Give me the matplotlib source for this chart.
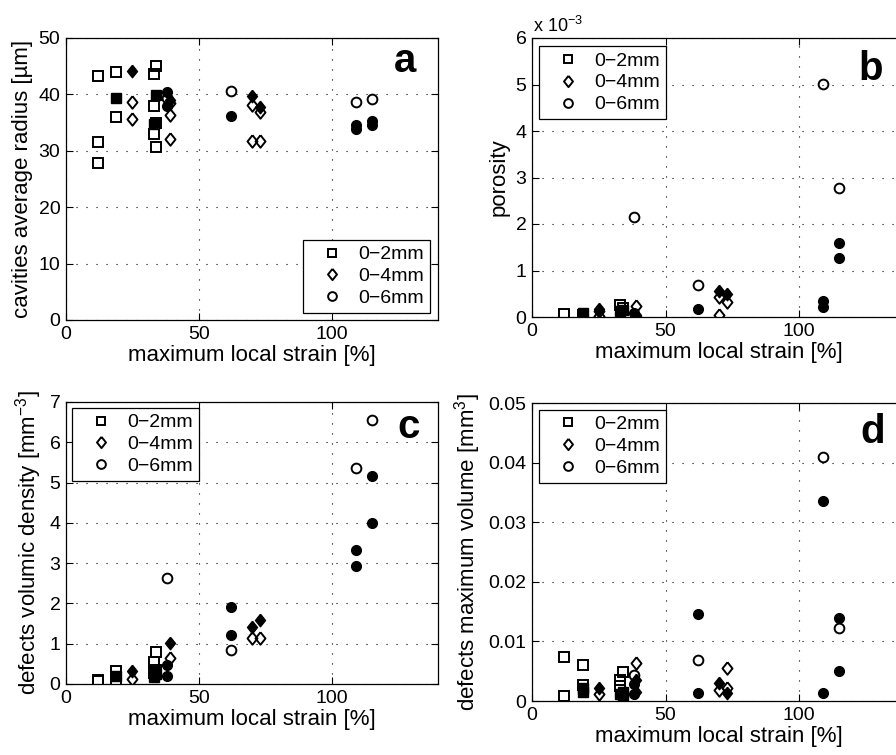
import matplotlib.pyplot as plt
from matplotlib.ticker import FuncFormatter

plt.rcParams["font.family"] = ["Liberation Sans", "DejaVu Sans"]
plt.rcParams["mathtext.fontset"] = "custom"
plt.rcParams["mathtext.rm"] = "Liberation Sans"
plt.rcParams["mathtext.it"] = "Liberation Sans:italic"
plt.rcParams["mathtext.bf"] = "Liberation Sans:bold"

LEGEND_LABELS = ["0−2mm", "0−4mm", "0−6mm"]
STRAIN_TICKS = [0, 50, 100]
XLABEL = "maximum local strain [%]"

# (strain %, value) pairs
# a: cavities average radius [um]
a_sq_open = [(12, 43.2), (12, 31.5), (12, 27.8), (19, 44.0), (19, 36.0), (33, 43.6),
             (33, 37.9), (33, 33.0), (34, 45.0), (34, 35.0), (34, 30.7)]
a_sq_fill = [(19, 39.4), (33, 34.7), (34, 39.9)]
a_di_open = [(25, 38.7), (25, 35.6), (39, 38.5), (39, 36.3), (39, 32.1),
             (70, 38.1), (70, 31.8), (73, 36.9), (73, 31.7)]
a_di_fill = [(25, 44.1), (39, 39.0), (70, 39.7), (73, 37.8)]
a_ci_open = [(38, 39.3), (62, 40.6), (109, 38.6), (115, 39.2)]
a_ci_fill = [(38, 40.5), (38, 38.0), (62, 36.2), (109, 34.6), (109, 33.9),
             (115, 35.2), (115, 34.6)]

# b: porosity (x 10^-3)
b_sq_open = [(12, 0.06), (19, 0.04), (33, 0.26), (34, 0.2)]
b_sq_fill = [(19, 0.09), (33, 0.12), (34, 0.15)]
b_di_open = [(25, 0.02), (25, 0.12), (39, 0.24), (70, 0.43), (70, 0.04), (73, 0.33)]
b_di_fill = [(25, 0.17), (39, 0.05), (39, 0.02), (70, 0.55), (73, 0.5)]
b_ci_open = [(38, 2.15), (62, 0.68), (109, 5.02), (115, 2.78)]
b_ci_fill = [(38, 0.08), (62, 0.17), (109, 0.35), (109, 0.22), (115, 1.6), (115, 1.27)]

# c: defects volumic density [mm^-3]
c_sq_open = [(12, 0.08), (12, 0.1), (19, 0.33), (19, 0.08), (33, 0.55), (33, 0.28),
             (34, 0.8), (34, 0.35)]
c_sq_fill = [(19, 0.2), (33, 0.18), (34, 0.25)]
c_di_open = [(25, 0.12), (39, 0.65), (70, 1.13), (73, 1.13)]
c_di_fill = [(25, 0.33), (39, 1.03), (70, 1.42), (73, 1.6)]
c_ci_open = [(38, 2.62), (62, 0.85), (109, 5.36), (115, 6.55)]
c_ci_fill = [(38, 0.47), (38, 0.2), (62, 1.9), (62, 1.22), (109, 3.33), (109, 2.92),
             (115, 5.16), (115, 4.0)]

# d: defects maximum volume [mm^3]
d_sq_open = [(12, 0.0074), (12, 0.0008), (19, 0.006), (19, 0.0027), (33, 0.0036),
             (33, 0.0026), (34, 0.0048)]
d_sq_fill = [(19, 0.0021), (19, 0.0015), (33, 0.0012), (34, 0.0015), (34, 0.0008)]
d_di_open = [(25, 0.0012), (39, 0.0064), (70, 0.0018), (73, 0.0056), (73, 0.0022)]
d_di_fill = [(25, 0.0021), (39, 0.0035), (39, 0.0015), (70, 0.0031), (73, 0.0014)]
d_ci_open = [(38, 0.0043), (62, 0.0069), (109, 0.041), (115, 0.0122)]
d_ci_fill = [(38, 0.0028), (38, 0.0012), (62, 0.0146), (62, 0.0013), (109, 0.0336),
             (109, 0.0013), (115, 0.014), (115, 0.005)]

DIAMOND = [(0, 1), (0.8, 0), (0, -1), (-0.8, 0), (0, 1)]
MARKERS = [("s", 6.5), (DIAMOND, 9), ("o", 7)]


def split(points):
    return [p[0] for p in points], [p[1] for p in points]


def draw_panel(ax, groups, ylim, yticks, ylabel, letter, letter_xy, leg_loc, leg_anchor):
    for (open_pts, fill_pts), (marker, size), label in zip(groups, MARKERS, LEGEND_LABELS):
        x, y = split(open_pts)
        ax.plot(x, y, ls="none", marker=marker, ms=size, mfc="none", mec="k",
                mew=1.4, label=label)
        x, y = split(fill_pts)
        ax.plot(x, y, ls="none", marker=marker, ms=size, mfc="k", mec="k", mew=1.0)

    ax.set_xlim(0, 140)
    ax.set_ylim(*ylim)
    ax.set_xticks(STRAIN_TICKS)
    ax.set_yticks(yticks)
    ax.yaxis.set_major_formatter(FuncFormatter(lambda v, p: f"{v:g}"))
    ax.grid(True, color="k", linestyle=(0, (1, 8)), linewidth=0.8)
    ax.tick_params(direction="in", top=True, right=True, length=5, width=0.8,
                   labelsize=14, pad=4)
    for s in ax.spines.values():
        s.set_linewidth(0.9)
    ax.set_xlabel(XLABEL, fontsize=16, labelpad=2)
    ax.set_ylabel(ylabel, fontsize=16, labelpad=4)
    ax.text(letter_xy[0], letter_xy[1], letter, transform=ax.transAxes, fontsize=29,
            fontweight="bold", ha="center", va="baseline")
    leg = ax.legend(loc=leg_loc, bbox_to_anchor=leg_anchor, fontsize=14, numpoints=1,
                    handlelength=2.4, handletextpad=0.15, borderpad=0.3,
                    labelspacing=0.22, markerscale=0.9, fancybox=False,
                    framealpha=1, borderaxespad=0)
    leg.get_frame().set_edgecolor("k")
    leg.get_frame().set_linewidth(0.9)


fig = plt.figure(figsize=(8.96, 7.55), dpi=100)
W, H = 896, 755


def axes_px(left, top, right, bottom):
    return fig.add_axes([left / W, 1 - bottom / H, (right - left) / W, (bottom - top) / H])


ax_a = axes_px(66, 38, 438, 320)
ax_b = axes_px(532, 38, 906, 317)
ax_c = axes_px(66, 402, 438, 684)
ax_d = axes_px(532, 403, 906, 701)

draw_panel(ax_a, [(a_sq_open, a_sq_fill), (a_di_open, a_di_fill), (a_ci_open, a_ci_fill)],
           (0, 50), range(0, 51, 10), "cavities average radius [µm]", "a",
           (0.911, 0.879), "lower right", (0.978, 0.025))
draw_panel(ax_b, [(b_sq_open, b_sq_fill), (b_di_open, b_di_fill), (b_ci_open, b_ci_fill)],
           (0, 6), range(0, 7), "porosity", "b",
           (0.906, 0.849), "upper left", (0.019, 0.971))
draw_panel(ax_c, [(c_sq_open, c_sq_fill), (c_di_open, c_di_fill), (c_ci_open, c_ci_fill)],
           (0, 7), range(0, 8), r"defects volumic density [mm$^{-3}$]", "c",
           (0.922, 0.872), "upper left", (0.016, 0.979))
draw_panel(ax_d, [(d_sq_open, d_sq_fill), (d_di_open, d_di_fill), (d_ci_open, d_ci_fill)],
           (0, 0.05), [0, 0.01, 0.02, 0.03, 0.04, 0.05], r"defects maximum volume [mm$^{3}$]",
           "d", (0.912, 0.866), "upper left", (0.019, 0.977))

fig.text(533 / W, 1 - 32 / H, r"x 10$^{-3}$", fontsize=13, ha="left", va="baseline")

fig.savefig("out.png", dpi=100)
